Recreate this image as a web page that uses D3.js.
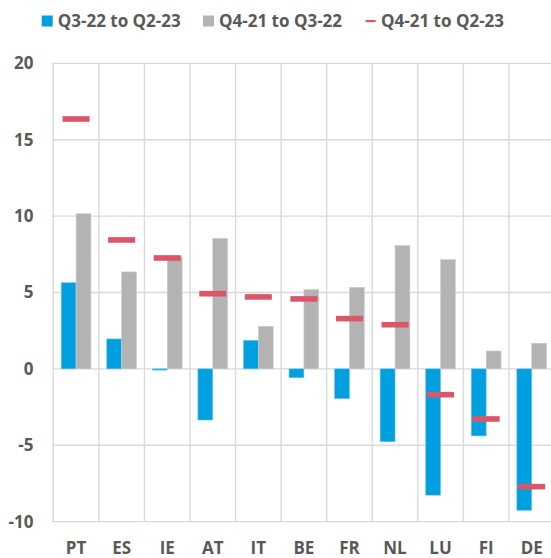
<html>
<head>
<meta charset="utf-8">
<script src="https://cdnjs.cloudflare.com/ajax/libs/d3/7.8.5/d3.min.js"></script>
<style>
  body { margin: 0; background: #fff; }
  text { font-family: "Open Sans", sans-serif; font-weight: bold; fill: #595959; }
</style>
</head>
<body>
<div id="chart"></div>
<script>
// data
var countries = ["PT", "ES", "IE", "AT", "IT", "BE", "FR", "NL", "LU", "FI", "DE"];
var recent = [5.64, 1.96, -0.08, -3.35, 1.87, -0.58, -1.95, -4.77, -8.27, -4.39, -9.26];   // Q3-22 to Q2-23
var earlier = [10.16, 6.35, 7.33, 8.55, 2.79, 5.19, 5.34, 8.07, 7.15, 1.17, 1.68];      // Q4-21 to Q3-22
var total = [16.36, 8.44, 7.26, 4.92, 4.71, 4.58, 3.29, 2.89, -1.69, -3.28, -7.71];     // Q4-21 to Q2-23
var yTicks = [20, 15, 10, 5, 0, -5, -10];
var seriesNames = ["Q3-22 to Q2-23", "Q4-21 to Q3-22", "Q4-21 to Q2-23"];

var W = 551, H = 558;
var blue = "#009fdf", grey = "#b3b3b3", red = "#de5468", gridCol = "#dadada";

var svg = d3.select("#chart").append("svg").attr("width", W).attr("height", H);

var x = d3.scaleBand().domain(countries).range([53.3, 554.5]);
var y = d3.scaleLinear().domain([-10, 20]).range([521.6, 63.4]);

// horizontal gridlines
svg.selectAll(".hgrid").data(yTicks).enter().append("line")
  .attr("x1", 52).attr("x2", W)
  .attr("y1", function (d) { return y(d); }).attr("y2", function (d) { return y(d); })
  .attr("stroke", gridCol).attr("stroke-width", 1.4);

// vertical gridlines at category boundaries
var bounds = countries.map(function (c) { return x(c); });
svg.selectAll(".vgrid").data(bounds).enter().append("line")
  .attr("x1", function (d) { return d; }).attr("x2", function (d) { return d; })
  .attr("y1", y(20)).attr("y2", y(-10))
  .attr("stroke", gridCol).attr("stroke-width", 1.4);

// y tick labels
svg.selectAll(".ylab").data(yTicks).enter().append("text")
  .attr("x", 33.5).attr("y", function (d) { return y(d); })
  .attr("dy", "0.35em").attr("text-anchor", "end")
  .style("font-size", "17px")
  .text(function (d) { return d; });

// x labels
svg.selectAll(".xlab").data(countries).enter().append("text")
  .attr("x", function (d) { return x(d) + x.bandwidth() / 2; })
  .attr("y", 548.5).attr("dy", "0.35em").attr("text-anchor", "middle")
  .style("font-size", "17px")
  .text(function (d) { return d; });

var inner = 7.9, bw = (x.bandwidth() - 2 * inner) / 2;

// blue bars
svg.selectAll(".b1").data(countries).enter().append("rect")
  .attr("x", function (d) { return x(d) + inner; })
  .attr("y", function (d, i) { return y(Math.max(0, recent[i])); })
  .attr("width", bw)
  .attr("height", function (d, i) { return Math.abs(y(recent[i]) - y(0)); })
  .attr("fill", blue).attr("stroke", "#6cc8ee").attr("stroke-width", 0.6);

// grey bars
svg.selectAll(".b2").data(countries).enter().append("rect")
  .attr("x", function (d) { return x(d) + inner + bw; })
  .attr("y", function (d, i) { return y(Math.max(0, earlier[i])); })
  .attr("width", bw)
  .attr("height", function (d, i) { return Math.abs(y(earlier[i]) - y(0)); })
  .attr("fill", grey).attr("stroke", "#d0d0d0").attr("stroke-width", 0.6);

// red dashes
var dashW = 27, dashH = 5.6;
svg.selectAll(".dash").data(countries).enter().append("rect")
  .attr("x", function (d) { return x(d) + x.bandwidth() / 2 - dashW / 2; })
  .attr("y", function (d, i) { return y(total[i]) - dashH / 2; })
  .attr("width", dashW).attr("height", dashH)
  .attr("fill", red);

// legend
var leg = svg.append("g");
leg.append("rect").attr("x", 41.7).attr("y", 15.5).attr("width", 11).attr("height", 11).attr("fill", blue);
leg.append("text").attr("x", 57.7).attr("y", 21).attr("dy", "0.35em").style("font-size", "17px").text(seriesNames[0]);
leg.append("rect").attr("x", 203).attr("y", 15.5).attr("width", 11).attr("height", 11).attr("fill", grey);
leg.append("text").attr("x", 219).attr("y", 21).attr("dy", "0.35em").style("font-size", "17px").text(seriesNames[1]);
leg.append("rect").attr("x", 365.7).attr("y", 20).attr("width", 10).attr("height", 2.2).attr("fill", red);
leg.append("text").attr("x", 381).attr("y", 21).attr("dy", "0.35em").style("font-size", "17px").text(seriesNames[2]);
</script>
</body>
</html>
